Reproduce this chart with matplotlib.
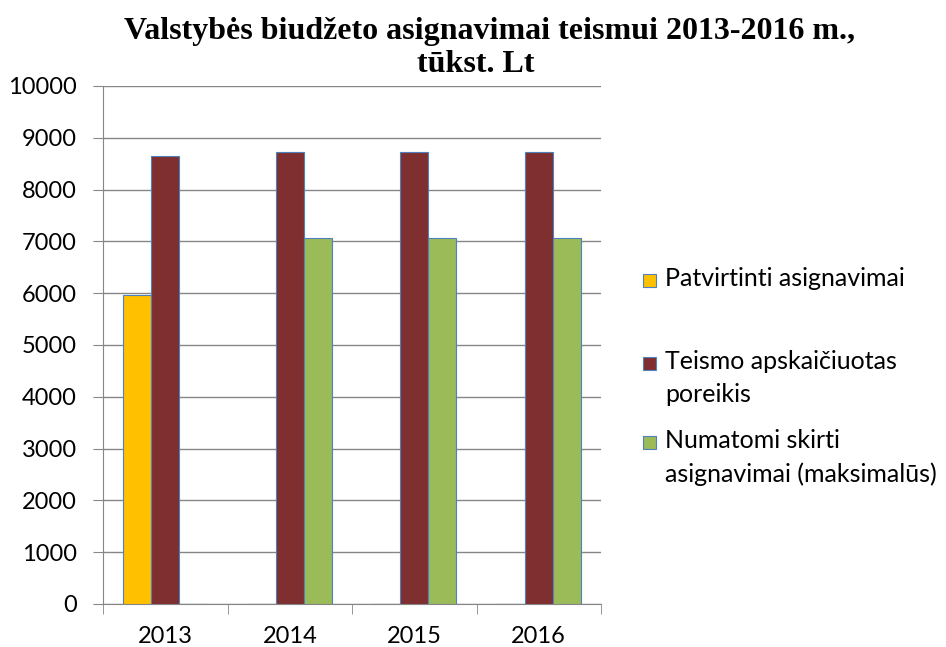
import numpy as np
import matplotlib.pyplot as plt
from matplotlib.patches import Rectangle

# ==================================
# DATA
# ==================================

years = ["2013", "2014", "2015", "2016"]
patvirtinti = [5970, 0, 0, 0]
poreikis = [8650, 8720, 8720, 8720]
numatomi = [0, 7060, 7060, 7060]

series_names = [
    "Patvirtinti asignavimai",
    "Teismo apskaičiuotas\nporeikis",
    "Numatomi skirti\nasignavimai (maksimalūs)",
]
colors = ["#FFC000", "#7F2F2F", "#9BBB59"]
edge = "#4F81BD"

plt.rcParams["font.family"] = ["Lato", "DejaVu Sans"]

# ==================================
# FIGURE
# ==================================

W, H = 946, 647
fig = plt.figure(figsize=(W / 100, H / 100), dpi=100)
ax = fig.add_axes([103 / W, 43 / H, 498 / W, 518 / H])

x = np.arange(len(years))
w = 0.224

for i, (vals, c) in enumerate(zip([patvirtinti, poreikis, numatomi], colors)):
    ax.bar(x + (i - 1) * w, vals, w, color=c, edgecolor=edge, linewidth=0.8,
           zorder=3, label=series_names[i])

ax.set_xlim(-0.5, len(years) - 0.5)
ax.set_ylim(0, 10000)
ax.set_yticks(np.arange(0, 10001, 1000))
ax.set_xticks(x)
ax.set_xticklabels(years)
ax.set_xticks(np.arange(-0.5, len(years)), minor=True)

ax.grid(axis="y", color="#868686", linewidth=1.0, zorder=0)
for s in ["top", "right"]:
    ax.spines[s].set_visible(False)
ax.spines["left"].set_color("#868686")
ax.spines["bottom"].set_color("#868686")

ax.tick_params(axis="x", which="major", length=0, labelsize=17, pad=16)
ax.tick_params(axis="x", which="minor", length=7, color="#868686")
ax.tick_params(axis="y", length=7, color="#868686", labelsize=17, pad=12)

# ==================================
# TITLE
# ==================================

fig.text(490 / W, 1 - 31 / H, "Valstybės biudžeto asignavimai teismui 2013-2016 m.,",
         ha="center", va="center", fontsize=23, fontweight="bold",
         family="Liberation Serif")
fig.text(476 / W, 1 - 64 / H, "tūkst. Lt",
         ha="center", va="center", fontsize=23, fontweight="bold",
         family="Liberation Serif")

# ==================================
# LEGEND (marker aligned with first line, like Excel)
# ==================================

legend_y = [281, 364, 443]
for name, c, yy in zip(series_names, colors, legend_y):
    fig.add_artist(Rectangle((643 / W, 1 - (yy + 6) / H), 13 / W, 13 / H,
                             transform=fig.transFigure, facecolor=c,
                             edgecolor=edge, linewidth=0.8))
    fig.text(665 / W, 1 - (yy - 14) / H, name, ha="left", va="top",
             fontsize=18, linespacing=1.55)

plt.savefig("out.png", dpi=100)
